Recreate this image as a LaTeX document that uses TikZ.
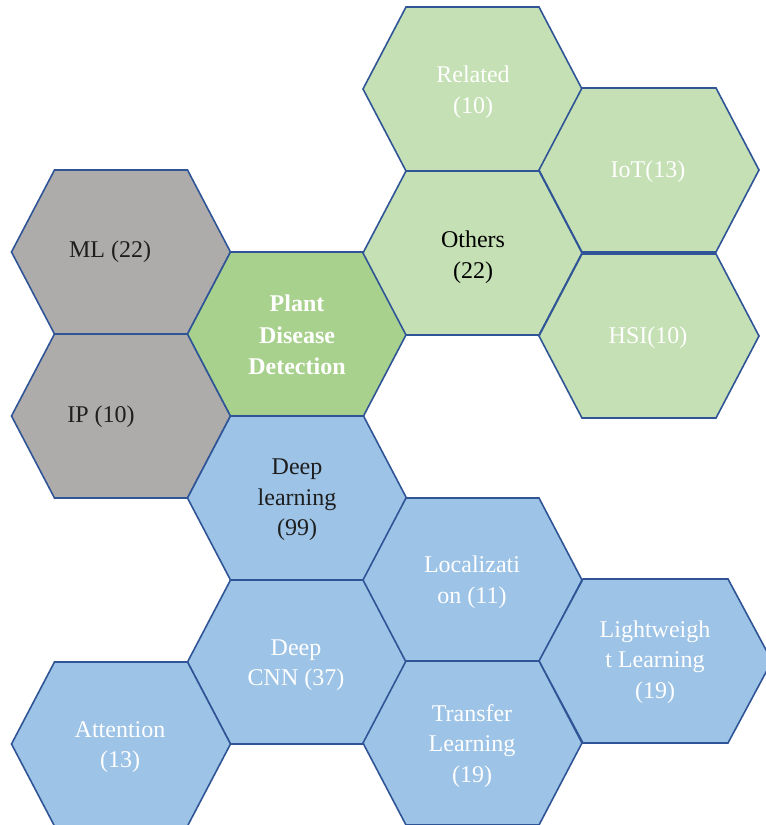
\documentclass[tikz,border=0pt]{standalone}
\usepackage{fontspec}
\setmainfont{Liberation Serif}
\definecolor{edgeblue}{HTML}{2F5597}
\definecolor{hexgray}{HTML}{AEABAB}
\definecolor{hexplant}{HTML}{A9D18E}
\definecolor{hexlight}{HTML}{C5E0B4}
\definecolor{hexblue}{HTML}{9DC3E6}
\definecolor{darktext}{HTML}{1E1E1E}
\newcommand\hexcell[5]{%
  \filldraw[hexline, fill=#3] (#1-#4,#2) -- (#1-#5,#2-82) -- (#1+#5,#2-82)
    -- (#1+#4,#2) -- (#1+#5,#2+82) -- (#1-#5,#2+82) -- cycle;}
\begin{document}
\begin{tikzpicture}[x=1pt,y=-1pt,
  hexline/.style={draw=edgeblue, line width=1.6pt, line join=miter},
  lab/.style={align=center, font=\fontsize{24}{30.5}\selectfont, inner sep=0pt},
  darklab/.style={lab, text=darktext},
  whitelab/.style={lab, text=white}]
\useasboundingbox (0,0) rectangle (766,825);
% gray
\hexcell{121}{252}{hexgray}{109.5}{66.5}
\hexcell{121}{416}{hexgray}{109.5}{66.5}
% green
\hexcell{297}{334}{hexplant}{109.5}{66.5}
\hexcell{472.5}{89}{hexlight}{109.5}{66.5}
\hexcell{472.5}{253}{hexlight}{109.5}{66.5}
\hexcell{649}{170}{hexlight}{110}{67}
\hexcell{649}{336}{hexlight}{110}{67}
% blue
\hexcell{297}{498}{hexblue}{109.5}{66.5}
\hexcell{297}{662}{hexblue}{109.5}{66.5}
\hexcell{472.5}{580}{hexblue}{109.5}{66.5}
\hexcell{655.5}{661}{hexblue}{116.5}{72.5}
\hexcell{472.5}{743}{hexblue}{109.5}{66.5}
\hexcell{121}{744}{hexblue}{109.5}{66.5}
% labels
\node[darklab] (ml) at (110,252) {ML (22)};
\node[darklab] (ip) at (101,417) {IP (10)};
\node[whitelab, font=\fontsize{24}{31.5}\selectfont\bfseries] (plant) at (297,335) {Plant\\Disease\\Detection};
\node[whitelab] (related) at (473,92) {Related\\(10)};
\node[whitelab] (iot) at (648,172) {IoT(13)};
\node[darklab, text=black] (others) at (473,257) {Others\\(22)};
\node[whitelab] (hsi) at (648,338) {HSI(10)};
\node[darklab] (dl) at (297,500) {Deep\\learning\\(99)};
\node[whitelab] (loc) at (472,582) {Localizati\\on (11)};
\node[whitelab] (cnn) at (296,665) {Deep\\CNN (37)};
\node[whitelab] (light) at (655,662) {Lightweigh\\t Learning\\(19)};
\node[whitelab] (transfer) at (472,746) {Transfer\\Learning\\(19)};
\node[whitelab] (attention) at (120,747) {Attention\\(13)};
\end{tikzpicture}
\end{document}
